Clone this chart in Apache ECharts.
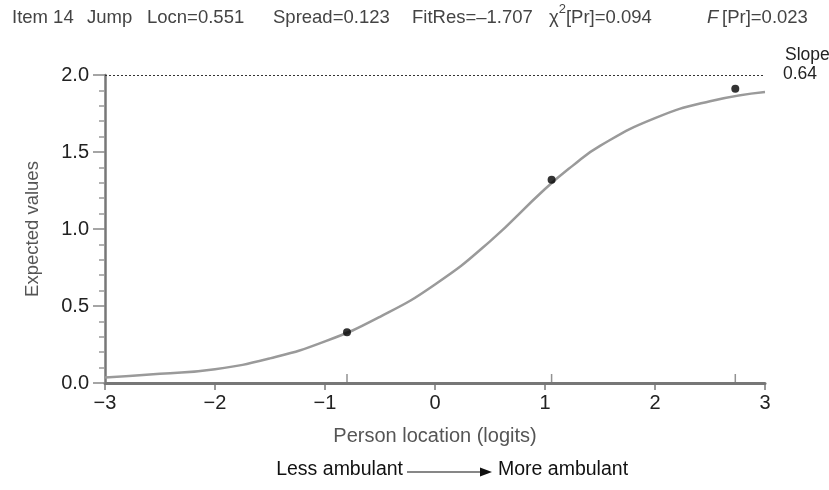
<!DOCTYPE html>
<html>
<head>
<meta charset="utf-8">
<script src="https://cdn.jsdelivr.net/npm/echarts@6/dist/echarts.min.js"></script>
<style>
  html, body { margin: 0; padding: 0; background: #fff; }
  #box { width: 829px; height: 490px; }
</style>
</head>
<body>
<div id="box"></div>
<script>
var myChart = echarts.init(document.getElementById('box'));

// expected value curve
var curveX = [-3, -2.5, -2, -1.5, -1, -0.5, 0, 0.5, 1, 1.25, 1.5, 2, 2.5, 3];
var curveY = [0.035, 0.06, 0.09, 0.16, 0.27, 0.43, 0.64, 0.92, 1.26, 1.41, 1.54, 1.72, 1.83, 1.89];

// observed class means
var pointX = [-0.8, 1.06, 2.73];
var pointY = [0.33, 1.32, 1.91];

var xTicks = [-3, -2, -1, 0, 1, 2, 3];
var yTicks = [0, 0.5, 1, 1.5, 2];

var font = "'Liberation Sans', Arial, sans-serif";
var tfont = '18.5px ' + font;

var curveData = curveX.map(function (x, i) { return [x, curveY[i]]; });
var pointData = pointX.map(function (x, i) { return [x, pointY[i]]; });
var rugData = pointX.map(function (x) { return [x, 0]; });

var option = {
    animation: false,
    textStyle: { fontFamily: font },
    grid: { left: 105, right: 64, top: 75, bottom: 107 },
    xAxis: {
        type: 'value',
        min: xTicks[0],
        max: xTicks[xTicks.length - 1],
        interval: 1,
        name: 'Person location (logits)',
        nameLocation: 'middle',
        nameGap: 43,
        nameTextStyle: { fontSize: 20, color: '#555', fontFamily: font },
        axisLine: { lineStyle: { color: '#777', width: 3 } },
        axisTick: { length: 7, lineStyle: { color: '#777', width: 1.5 } },
        axisLabel: {
            margin: 10,
            fontSize: 20,
            color: '#222',
            fontFamily: font,
            formatter: function (v) { return v < 0 ? '\u2212' + (-v) : String(v); }
        },
        splitLine: { show: false }
    },
    yAxis: {
        type: 'value',
        min: yTicks[0],
        max: yTicks[yTicks.length - 1],
        interval: 0.5,
        name: 'Expected values',
        nameLocation: 'middle',
        nameGap: 63,
        nameTextStyle: { fontSize: 18.5, color: '#555', fontFamily: font },
        axisLine: { show: true, onZero: false, lineStyle: { color: '#777', width: 2.5 } },
        axisTick: { length: 12, lineStyle: { color: '#888', width: 1.5 } },
        minorTick: { show: true, splitNumber: 5, length: 6, lineStyle: { color: '#999', width: 1.5 } },
        axisLabel: {
            margin: 16,
            fontSize: 20,
            color: '#222',
            fontFamily: font,
            formatter: function (v) { return v.toFixed(1); }
        },
        splitLine: { show: false }
    },
    series: [{
        type: 'line',
        data: curveData,
        smooth: true,
        showSymbol: false,
        lineStyle: { color: '#9a9a9a', width: 2.5 },
        markLine: {
            silent: true,
            symbol: 'none',
            label: { show: false },
            lineStyle: { color: '#333', width: 1, type: [2, 2] },
            data: [{ yAxis: 2 }]
        }
    }, {
        type: 'scatter',
        data: pointData,
        symbol: 'circle',
        symbolSize: 8,
        itemStyle: { color: '#000' },
        z: 5
    }, {
        // small marks on the x axis under each point
        type: 'scatter',
        data: rugData,
        symbol: 'rect',
        symbolSize: [1.5, 9],
        symbolOffset: [0, -4.5],
        itemStyle: { color: '#777' }
    }],
    graphic: [
        { type: 'text', left: 12, top: 8, style: { text: 'Item 14', fill: '#444', font: tfont } },
        { type: 'text', left: 87, top: 8, style: { text: 'Jump', fill: '#444', font: tfont } },
        { type: 'text', left: 147, top: 8, style: { text: 'Locn=0.551', fill: '#444', font: tfont } },
        { type: 'text', left: 273, top: 8, style: { text: 'Spread=0.123', fill: '#444', font: tfont } },
        { type: 'text', left: 412, top: 8, style: { text: 'FitRes=\u20131.707', fill: '#444', font: tfont } },
        { type: 'text', left: 549, top: 3, style: {
            text: '{c|\u03c7}{s|2}{c|[Pr]=0.094}', fill: '#444', font: tfont,
            rich: {
                c: { fontSize: 18.5, fontFamily: font, fill: '#444', lineHeight: 24, verticalAlign: 'bottom' },
                s: { fontSize: 13, fontFamily: font, fill: '#444', lineHeight: 22, verticalAlign: 'top' }
            }
        } },
        { type: 'text', left: 707, top: 8, style: {
            text: '{i|F}\u2009[Pr]=0.023', fill: '#444', font: tfont,
            rich: { i: { fontStyle: 'italic', fontSize: 18.5, fontFamily: font, fill: '#444' } }
        } },
        { type: 'text', left: 785, top: 46, style: { text: 'Slope', fill: '#222', font: '17.5px ' + font } },
        { type: 'text', left: 783, top: 65, style: { text: '0.64', fill: '#222', font: '17.5px ' + font } },
        { type: 'text', right: 829 - 403, top: 460, style: { text: 'Less ambulant', fill: '#111', font: '19.5px ' + font, textAlign: 'right' } },
        { type: 'line', shape: { x1: 407, y1: 472, x2: 482, y2: 472 }, style: { stroke: '#111', lineWidth: 1.2 } },
        { type: 'polygon', shape: { points: [[480, 467.5], [492, 472], [480, 476.5]] }, style: { fill: '#111' } },
        { type: 'text', left: 498, top: 460, style: { text: 'More ambulant', fill: '#111', font: '19.5px ' + font } }
    ]
};

myChart.setOption(option);
</script>
</body>
</html>
